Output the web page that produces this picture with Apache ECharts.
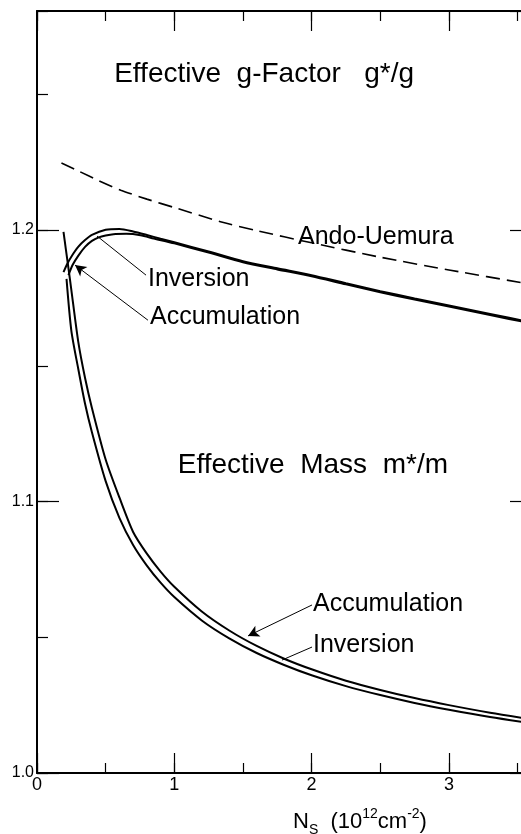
<!DOCTYPE html>
<html><head><meta charset="utf-8">
<script src="https://cdn.jsdelivr.net/npm/echarts@6/dist/echarts.min.js"></script>
<style>html,body{margin:0;padding:0;background:#fff}#c{width:521px;height:834px}</style>
</head><body><div id="c"></div>
<script>
// ---- data ----
const xTickLabels = ['0', '1', '2', '3'];
const yTickLabels = ['1.0', '1.1', '1.2'];

const andoNs = [0.178, 0.3, 0.45, 0.61, 0.8, 1.0, 1.336, 1.6, 2.0, 2.5, 3.0, 3.6];
const andoUemura = [1.2247, 1.2218, 1.2182, 1.2147, 1.2114, 1.2083, 1.2031, 1.1998, 1.1953, 1.1900, 1.1853, 1.1800];

const gInvNs = [0.193, 0.22, 0.25, 0.3, 0.35, 0.4, 0.5, 0.6, 0.7, 0.8, 0.9, 1.0, 1.25, 1.5, 1.75, 2.0, 2.25, 2.5, 2.75, 3.0, 3.3, 3.6];
const gInversion = [1.1845, 1.1875, 1.1902, 1.1938, 1.1963, 1.1982, 1.2001, 1.2004, 1.1995, 1.1982, 1.1968, 1.1955, 1.1921, 1.1885, 1.1859, 1.1834, 1.1804, 1.1775, 1.1748, 1.1722, 1.1691, 1.1660];

const gAccNs = [0.229, 0.26, 0.3, 0.35, 0.4, 0.45, 0.5, 0.557, 0.65, 0.754, 0.85, 1.0, 1.25, 1.5, 1.75, 2.0, 2.25, 2.5, 2.75, 3.0, 3.3, 3.6];
const gAccumulation = [1.1834, 1.1872, 1.1905, 1.1938, 1.1960, 1.1973, 1.1980, 1.1985, 1.1986, 1.1981, 1.1969, 1.1951, 1.1917, 1.1881, 1.1855, 1.1830, 1.1800, 1.1771, 1.1744, 1.1718, 1.1687, 1.1656];

const mInvNs = [0.215, 0.25, 0.3, 0.35, 0.4, 0.5, 0.6, 0.7, 0.8, 0.9, 1.0, 1.2, 1.4, 1.6, 1.8, 2.0, 2.25, 2.5, 2.75, 3.0, 3.3, 3.6];
const mInversion = [1.182, 1.163, 1.149, 1.136, 1.1255, 1.1075, 1.094, 1.084, 1.0764, 1.0701, 1.0648, 1.0562, 1.0496, 1.0442, 1.0398, 1.0360, 1.0320, 1.0287, 1.0258, 1.0233, 1.0206, 1.0183];

const mAccNs = [0.193, 0.21, 0.229, 0.25, 0.3, 0.35, 0.4, 0.5, 0.6, 0.7, 0.8, 0.9, 1.0, 1.2, 1.4, 1.6, 1.8, 2.0, 2.25, 2.5, 2.75, 3.0, 3.3, 3.6];
const mAccumulation = [1.1993, 1.193, 1.186, 1.178, 1.159, 1.1455, 1.1345, 1.1155, 1.1015, 1.0888, 1.0808, 1.0742, 1.0686, 1.0595, 1.0525, 1.0468, 1.0421, 1.0382, 1.0340, 1.0306, 1.0276, 1.0250, 1.0222, 1.0198];

// leader lines: [pointer end on curve, label end] in data coordinates
const gInvLeader = [[0.437, 1.1978], [0.794, 1.1834]];
const gAccLeader = [[0.277, 1.1871], [0.808, 1.1668]];
const mAccLeader = [[1.537, 1.0505], [2.003, 1.0619]];
const mInvLeader = [[1.784, 1.0416], [2.003, 1.0464]];

// ---- chart ----
const FONT = '"Liberation Sans", Arial, sans-serif';
const X_MIN = 0, X_MAX = 3.605, Y_MIN = 1.0, Y_MAX = 1.2807;
const zip = (a, b) => a.map((v, i) => [v, b[i]]);

function xAx(position, interval, len, withLine, withLabel) {
  return {
    type: 'value', position, min: X_MIN, max: X_MAX, interval,
    axisLine: { show: withLine, onZero: false, lineStyle: { color: '#000', width: 2 } },
    axisTick: { show: true, inside: true, length: len, lineStyle: { color: '#000', width: 1.2 } },
    splitLine: { show: false },
    axisLabel: withLabel ? {
      show: true, showMaxLabel: false, color: '#000', fontSize: 18, fontFamily: FONT, margin: 3,
      formatter: v => { const i = Math.round(v); return (Math.abs(v - i) < 1e-6 && xTickLabels[i] !== undefined) ? xTickLabels[i] : ''; }
    } : { show: false }
  };
}
function yAx(position, interval, len, withLine, withLabel) {
  return {
    type: 'value', position, min: Y_MIN, max: Y_MAX, interval,
    axisLine: { show: withLine, onZero: false, lineStyle: { color: '#000', width: 2 } },
    axisTick: { show: true, inside: true, length: len, lineStyle: { color: '#000', width: 1.2 } },
    splitLine: { show: false },
    axisLabel: withLabel ? {
      show: true, showMaxLabel: false, color: '#000', fontSize: 16, fontFamily: FONT, margin: 3,
      formatter: v => { const i = Math.round((v - 1) * 10); return (Math.abs((v - 1) * 10 - i) < 1e-6 && yTickLabels[i] !== undefined) ? yTickLabels[i] : ''; }
    } : { show: false }
  };
}

function leader(pts, arrow) {
  return {
    silent: true, animation: false,
    symbolSize: [9, 11],
    label: { show: false },
    lineStyle: { color: '#000', width: 1, type: 'solid' },
    data: [[
      { coord: pts[0], symbol: arrow ? 'arrow' : 'none' },
      { coord: pts[1], symbol: 'none' }
    ]]
  };
}

const lineBase = {
  type: 'line', showSymbol: false, smooth: 0.25,
  xAxisIndex: 0, yAxisIndex: 0, animation: false, silent: true
};

function txt(x, y, text, size, align) {
  return { type: 'text', x, y, style: { text, font: size + 'px ' + FONT, fill: '#000',
    textAlign: align, textVerticalAlign: 'middle', align: align, verticalAlign: 'middle' } };
}

const option = {
  animation: false,
  backgroundColor: '#fff',
  grid: { left: 37, right: -11, top: 11, bottom: 61, containLabel: false, outerBoundsMode: 'none' },
  xAxis: [
    xAx('bottom', 1, 20, true, true),
    xAx('bottom', 0.5, 10, false, false),
    xAx('top', 1, 20, true, false),
    xAx('top', 0.5, 10, false, false)
  ],
  yAxis: [
    yAx('left', 0.1, 22, true, true),
    yAx('left', 0.05, 11, false, false),
    yAx('right', 0.1, 22, true, false),
    yAx('right', 0.05, 11, false, false)
  ],
  series: [
    Object.assign({}, lineBase, {
      name: 'Ando-Uemura', data: zip(andoNs, andoUemura),
      lineStyle: { color: '#000', width: 1.6, type: [14, 7] }
    }),
    Object.assign({}, lineBase, {
      name: 'g Inversion', data: zip(gInvNs, gInversion),
      lineStyle: { color: '#000', width: 2 },
      markLine: leader(gInvLeader, false)
    }),
    Object.assign({}, lineBase, {
      name: 'g Accumulation', data: zip(gAccNs, gAccumulation),
      lineStyle: { color: '#000', width: 2 },
      markLine: leader(gAccLeader, true)
    }),
    Object.assign({}, lineBase, {
      name: 'm Inversion', data: zip(mInvNs, mInversion),
      lineStyle: { color: '#000', width: 2 },
      markLine: leader(mInvLeader, false)
    }),
    Object.assign({}, lineBase, {
      name: 'm Accumulation', data: zip(mAccNs, mAccumulation),
      lineStyle: { color: '#000', width: 2 },
      markLine: leader(mAccLeader, true)
    })
  ],
  graphic: [
    txt(414, 74, 'Effective  g-Factor   g*/g', 28, 'right'),
    txt(448, 465, 'Effective  Mass  m*/m', 28, 'right'),
    txt(298, 237, 'Ando-Uemura', 25, 'left'),
    txt(148, 279, 'Inversion', 25, 'left'),
    txt(150, 317, 'Accumulation', 25, 'left'),
    txt(313, 604, 'Accumulation', 25, 'left'),
    txt(313, 645, 'Inversion', 25, 'left'),
    { type: 'text', x: 293, y: 822, style: {
        text: '{n|N}{sub|S}{n|  (10}{sup|12}{n|cm}{sup|-2}{n|)}',
        textAlign: 'left', textVerticalAlign: 'middle', align: 'left', verticalAlign: 'middle', fill: '#000',
        rich: {
          n: { fontSize: 22, lineHeight: 30, fontFamily: FONT, fill: '#000', color: '#000' },
          sub: { fontSize: 14, lineHeight: 14, fontFamily: FONT, verticalAlign: 'bottom', fill: '#000', color: '#000' },
          sup: { fontSize: 14, lineHeight: 14, fontFamily: FONT, verticalAlign: 'top', fill: '#000', color: '#000' }
        }
      } }
  ]
};

const chart = echarts.init(document.getElementById('c'), null, { renderer: 'canvas' });
chart.setOption(option);
</script>
</body></html>
